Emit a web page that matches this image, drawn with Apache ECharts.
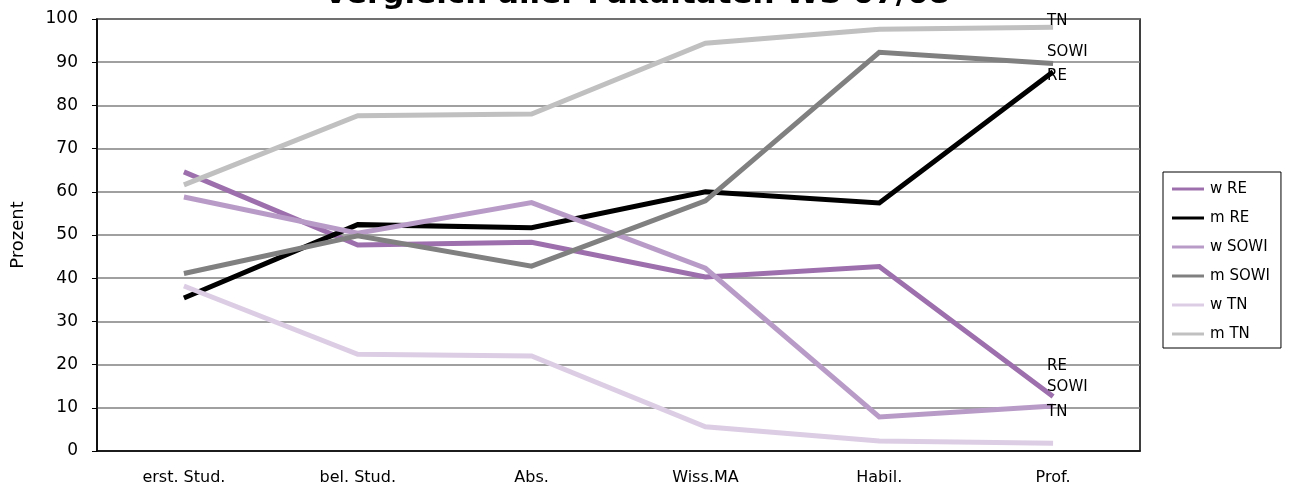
<!DOCTYPE html>
<html><head><meta charset="utf-8">
<script src="https://cdn.jsdelivr.net/npm/echarts@6/dist/echarts.min.js"></script>
<style>html,body{margin:0;padding:0;background:#fff}#c{width:1290px;height:489px}</style>
</head><body><div id="c"></div>
<script>
var categories = ['erst. Stud.', 'bel. Stud.', 'Abs.', 'Wiss.MA', 'Habil.', 'Prof.'];
var wRE   = [64.6, 47.7, 48.3, 40.3, 42.7, 12.6];
var mRE   = [35.4, 52.4, 51.7, 60.0, 57.4, 87.8];
var wSOWI = [58.8, 50.4, 57.5, 42.3, 7.9, 10.4];
var mSOWI = [41.1, 49.8, 42.8, 57.9, 92.3, 89.7];
var wTN   = [38.2, 22.4, 22.0, 5.6, 2.3, 1.8];
var mTN   = [61.6, 77.6, 78.0, 94.4, 97.6, 98.1];
var seriesNames = ['w RE', 'm RE', 'w SOWI', 'm SOWI', 'w TN', 'm TN'];
var endLabels = ['RE', 'RE', 'SOWI', 'SOWI', 'TN', 'TN'];
var yTicks = [0, 10, 20, 30, 40, 50, 60, 70, 80, 90, 100];

var colors = ['#9d70ad', '#000000', '#b99bc8', '#808080', '#dccde4', '#c0c0c0'];
var labelOffsets = [[-11, -30], [-11, 4], [-11, -19], [-11, -11], [-11, -31], [-11, -6]];
var dataSets = [wRE, mRE, wSOWI, mSOWI, wTN, mTN];
var FONT = 'DejaVu Sans';

var series = dataSets.map(function (d, i) {
  return {
    name: seriesNames[i],
    type: 'line',
    data: d,
    symbol: 'none',
    lineStyle: { width: 5, color: colors[i], cap: 'butt', join: 'miter' },
    itemStyle: { color: colors[i] },
    z: 3,
    endLabel: {
      show: true,
      formatter: endLabels[i],
      color: '#000',
      fontFamily: FONT,
      fontSize: 15,
      distance: 5,
      offset: labelOffsets[i],
      align: 'left'
    },
    emphasis: { disabled: true },
    animation: false
  };
});

var chart = echarts.init(document.getElementById('c'), null, { renderer: 'canvas' });
chart.setOption({
  animation: false,
  title: {
    text: 'Vergleich aller Fakultäten WS 07/08',
    left: 632,
    textAlign: 'center',
    top: -26,
    textStyle: { fontFamily: FONT, fontSize: 31, fontWeight: 'bold', color: '#000' }
  },
  grid: {
    left: 97, right: 150, top: 19, bottom: 38, containLabel: false,
    show: true, borderColor: '#000', borderWidth: 1.5, backgroundColor: 'transparent'
  },
  legend: {
    orient: 'vertical',
    left: 1163,
    top: 172,
    itemWidth: 32,
    itemHeight: 3,
    itemGap: 13,
    padding: [9, 11, 6, 9],
    borderColor: '#000',
    borderWidth: 1,
    icon: 'rect',
    textStyle: { fontFamily: FONT, fontSize: 15, lineHeight: 16, color: '#000', padding: [0, 0, 0, 1] },
    data: seriesNames
  },
  xAxis: {
    type: 'category',
    data: categories,
    boundaryGap: true,
    axisLine: { lineStyle: { color: '#000', width: 1.5 } },
    axisTick: { show: false },
    axisLabel: { fontFamily: FONT, fontSize: 16, color: '#000', margin: 19 }
  },
  yAxis: {
    type: 'value',
    min: 0,
    max: 100,
    interval: 10,
    name: 'Prozent',
    nameLocation: 'middle',
    nameGap: 70,
    nameRotate: 90,
    nameTextStyle: { fontFamily: FONT, fontSize: 18, color: '#000' },
    axisLine: { show: true, lineStyle: { color: '#000', width: 1.5 } },
    axisTick: { show: true, length: 5, inside: false, lineStyle: { color: '#000' } },
    axisLabel: {
      fontFamily: FONT, fontSize: 17, color: '#000', margin: 19,
      formatter: function (v) { return yTicks.indexOf(v) >= 0 ? String(v) : ''; }
    },
    splitLine: { show: true, lineStyle: { color: '#808080', width: 1.5 } }
  },
  series: series
});
</script>
</body></html>
